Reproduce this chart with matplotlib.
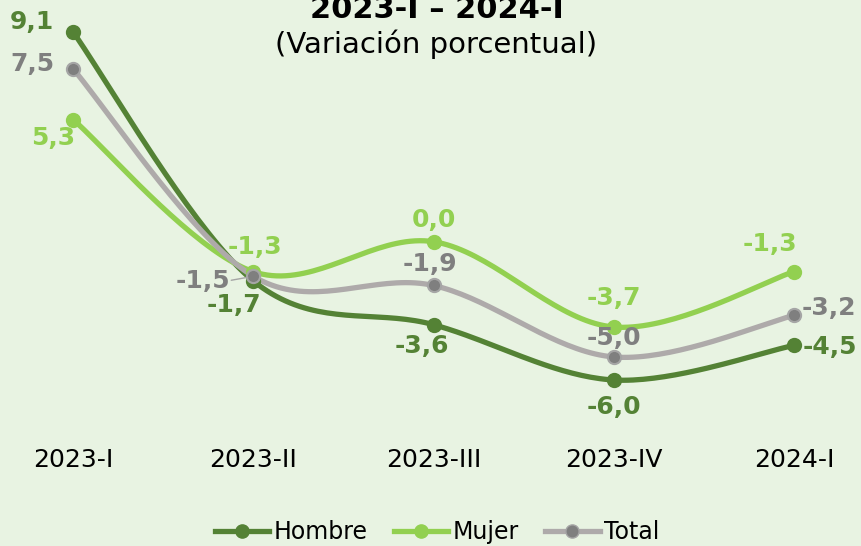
import numpy as np
import matplotlib
matplotlib.use("Agg")
from matplotlib import pyplot as plt
from matplotlib.lines import Line2D

# data
periods = ["2023-I", "2023-II", "2023-III", "2023-IV", "2024-I"]
hombre = [9.1, -1.7, -3.6, -6.0, -4.5]
mujer = [5.3, -1.3, 0.0, -3.7, -1.3]
total = [7.5, -1.5, -1.9, -5.0, -3.2]

BG = "#E8F3E2"
C_HOMBRE = "#548235"
C_MUJER = "#92D050"
C_TOTAL_LINE = "#AEAAAA"
C_TOTAL_MARK = "#7F7F7F"


def smooth(xs, ys, n=40):
    # bezier curve through the points, like excel "smoothed line"
    pts = np.column_stack([xs, ys]).astype(float)
    ext = np.vstack([pts[0], pts, pts[-1]])
    out = []
    t = np.linspace(0, 1, n)[:, None]
    for i in range(len(pts) - 1):
        p0 = ext[i + 1]
        p3 = ext[i + 2]
        p1 = p0 + (ext[i + 2] - ext[i]) / 6.0
        p2 = p3 - (ext[i + 3] - ext[i + 1]) / 6.0
        seg = ((1 - t) ** 3) * p0 + 3 * ((1 - t) ** 2) * t * p1 + 3 * (1 - t) * t ** 2 * p2 + t ** 3 * p3
        out.append(seg if i == 0 else seg[1:])
    out = np.vstack(out)
    return out[:, 0], out[:, 1]


fig = plt.figure(figsize=(8.61, 5.46), dpi=100)
fig.patch.set_facecolor(BG)
ax = fig.add_axes([0.0115, 0.2196, 0.984, 0.7599])
ax.set_facecolor(BG)

x = np.arange(len(periods))

series = [
    (hombre, C_HOMBRE, C_HOMBRE, C_HOMBRE),
    (mujer, C_MUJER, C_MUJER, C_MUJER),
    (total, C_TOTAL_LINE, C_TOTAL_MARK, "#A5A5A5"),
]
for vals, lc, mfc, mec in series:
    sx, sy = smooth(x, vals)
    ax.plot(sx, sy, color=lc, lw=3.8, solid_capstyle="round", zorder=2)
    ax.plot(x, vals, ls="none", marker="o", ms=9.5, mfc=mfc, mec=mec, mew=1.5, zorder=3)

# label offsets in pixels (dx, dy)
off_h = [(-41, 10), (-19, -24), (-12, -21), (0, -27), (36, -2)]
off_m = [(-20, -18), (2, 25), (0, 22), (0, 29), (-24, 28)]
off_t = [(-41, 5), (-50, -5), (-4, 21), (0, 19), (35, 7)]

for vals, offs, col in [(hombre, off_h, C_HOMBRE), (mujer, off_m, C_MUJER), (total, off_t, C_TOTAL_MARK)]:
    for xi, v, (dx, dy) in zip(x, vals, offs):
        ax.annotate(f"{v:.1f}".replace(".", ","), (xi, v), xytext=(dx, dy),
                    textcoords="offset pixels", ha="center", va="center",
                    fontsize=18, fontweight="bold", color=col, zorder=4)

# small leader line of the -1,5 label
ax.annotate("", xy=(x[1], total[1]), xytext=(-22, -4), textcoords="offset pixels",
            arrowprops=dict(arrowstyle="-", color="#A5A5A5", lw=1, shrinkA=0, shrinkB=4), zorder=4)

ax.set_xlim(-0.35, 4.35)
ax.set_ylim(-8, 10)
ax.set_xticks(x)
ax.set_xticklabels(periods, fontsize=18)
ax.set_yticks([])
ax.tick_params(axis="x", length=0, pad=16)
for s in ax.spines.values():
    s.set_visible(False)

fig.text(0.508, 1 - 18 / 546, "2023-I \u2013 2024-I", ha="center", va="baseline",
         fontsize=22, fontweight="bold")
fig.text(0.507, 1 - 53 / 546, "(Variaci\u00f3n porcentual)", ha="center", va="baseline",
         fontsize=21)

handles = [
    Line2D([], [], color=C_HOMBRE, lw=3.8, marker="o", ms=9.5, mfc=C_HOMBRE, mec=C_HOMBRE),
    Line2D([], [], color=C_MUJER, lw=3.8, marker="o", ms=9.5, mfc=C_MUJER, mec=C_MUJER),
    Line2D([], [], color=C_TOTAL_LINE, lw=3.8, marker="o", ms=9.5, mfc=C_TOTAL_MARK, mec="#A5A5A5"),
]
fig.legend(handles, ["Hombre", "Mujer", "Total"], loc="center", bbox_to_anchor=(0.508, 1 - 532 / 546),
           ncol=3, frameon=False, fontsize=17, handlelength=2.3, handletextpad=0.2,
           columnspacing=1.1, borderpad=0)

fig.savefig("out.png", dpi=100, facecolor=BG)
